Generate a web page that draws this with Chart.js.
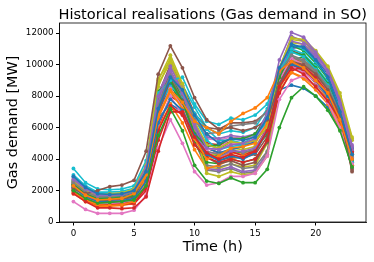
<!DOCTYPE html>
<html>
<head>
<meta charset="utf-8">
<script src="https://cdn.jsdelivr.net/npm/chart.js@4.4.1/dist/chart.umd.min.js"></script>
<style>
  html, body { margin: 0; padding: 0; background: #fff; }
  #wrap { width: 374px; height: 262px; }
</style>
</head>
<body>
<div id="wrap"><canvas id="gas-chart" width="374" height="262"></canvas></div>
<script>
const hours = [0, 1, 2, 3, 4, 5, 6, 7, 8, 9, 10, 11, 12, 13, 14, 15, 16, 17, 18, 19, 20, 21, 22, 23];
const xTicks = [0, 5, 10, 15, 20];
const yTicks = [0, 2000, 4000, 6000, 8000, 10000, 12000];
const chartTitle = 'Historical realisations (Gas demand in SO)';
const xLabel = 'Time (h)';
const yLabel = 'Gas demand [MW]';

// matplotlib tab10 cycle
const palette = ['#1f77b4', '#ff7f0e', '#2ca02c', '#d62728', '#9467bd', '#8c564b', '#e377c2', '#7f7f7f', '#bcbd22', '#17becf'];

const day01 = [2900, 2200, 1800, 1750, 1800, 2000, 3200, 7200, 9200, 8400, 6800, 5600, 5000, 5300, 5200, 5400, 6600, 9800, 11300, 11100, 10300, 9200, 7000, 4300];
const day02 = [2300, 1700, 1400, 1450, 1500, 1800, 3000, 6800, 8400, 7600, 6400, 6000, 5600, 6400, 6900, 7250, 7900, 9600, 10200, 9800, 9000, 8200, 6500, 4000];
const day03 = [2000, 1500, 1200, 1250, 1300, 1400, 2300, 5500, 7200, 5800, 3600, 2600, 2450, 2800, 2500, 2500, 3350, 6000, 7900, 8600, 8000, 7100, 5800, 3500];
const day04 = [1800, 1300, 900, 900, 850, 900, 1600, 4500, 7000, 7000, 5400, 4400, 4000, 4300, 4100, 4500, 5800, 8600, 9800, 9400, 8600, 7700, 6500, 4400];
const day05 = [2700, 2100, 1700, 1700, 1750, 2000, 3500, 8000, 9600, 8200, 6200, 4700, 4600, 4900, 5000, 5300, 6900, 10300, 12050, 11750, 10800, 9600, 7500, 4600];
const day06 = [2100, 1800, 2000, 2250, 2350, 2650, 4500, 9400, 11200, 9800, 7900, 6500, 5900, 6000, 5800, 6000, 6500, 8800, 10200, 10000, 9400, 8400, 6800, 3200];
const day07 = [1300, 800, 550, 550, 550, 750, 1700, 4700, 6500, 5000, 3200, 2350, 2500, 2900, 2900, 3100, 4200, 7800, 9000, 9300, 8600, 7600, 6000, 3700];
const day08 = [2500, 1900, 1600, 1650, 1700, 1900, 3100, 7400, 9400, 8100, 6500, 5600, 5700, 6100, 6200, 6300, 7000, 9500, 10600, 10300, 9600, 8600, 6900, 4200];
const day09 = [2600, 2000, 1700, 1800, 1850, 2100, 3600, 9000, 10600, 8800, 6400, 4900, 4700, 5100, 5000, 5200, 6000, 9800, 11700, 11600, 10900, 9900, 8200, 5400];
const day10 = [3400, 2500, 2100, 2050, 2100, 2300, 3900, 8200, 9000, 9200, 7500, 6400, 6200, 6600, 6500, 6800, 7500, 9600, 10800, 10500, 9700, 8700, 6900, 3800];
const day11 = [2200, 1600, 1300, 1300, 1350, 1500, 2600, 6300, 7800, 7100, 5500, 4300, 3900, 4200, 4000, 4400, 5800, 8800, 10000, 9800, 9000, 8000, 6600, 4000];
const day12 = [1900, 1400, 1100, 1050, 1100, 1300, 2900, 6600, 8300, 7200, 5300, 4000, 4200, 4700, 4800, 5000, 6300, 8700, 9500, 9200, 8600, 7800, 6100, 3600];
const day13 = [2400, 1800, 1500, 1500, 1550, 1700, 3300, 8300, 9000, 7600, 5600, 4800, 4900, 5300, 5300, 5600, 6700, 9200, 10800, 10600, 9800, 8800, 7100, 4300];
const day14 = [2000, 1400, 1100, 1100, 1100, 1200, 2200, 5800, 7400, 6800, 4900, 4100, 3800, 4000, 3800, 4000, 5200, 8200, 9600, 9900, 9200, 8200, 6700, 4500];
const day15 = [2500, 1900, 1500, 1500, 1550, 1750, 3000, 7600, 9900, 8300, 6000, 4300, 4100, 4500, 4500, 4700, 5900, 9300, 11500, 11300, 10500, 9500, 7600, 4800];
const day16 = [2300, 1700, 1400, 1400, 1450, 1600, 2800, 7000, 9100, 7700, 5500, 4100, 3700, 3900, 3600, 3800, 5100, 8600, 10200, 9900, 9100, 8100, 6400, 3300];
const day17 = [2100, 1600, 1300, 1300, 1350, 1500, 2700, 6700, 8500, 7300, 5400, 4600, 4700, 5300, 5200, 5400, 6200, 9000, 10400, 10000, 9200, 8300, 6700, 4100];
const day18 = [2400, 1800, 1500, 1500, 1550, 1750, 3000, 7300, 9300, 7600, 5600, 4500, 4300, 4600, 4400, 4600, 5800, 9100, 10500, 10200, 9400, 8400, 6800, 4000];
const day19 = [2700, 2000, 1600, 1650, 1700, 1950, 3300, 8800, 10100, 8400, 5900, 3100, 2900, 3200, 3000, 3100, 4200, 8400, 10300, 10100, 9300, 8400, 6700, 4200];
const day20 = [2900, 2200, 1800, 1800, 1850, 2050, 3500, 7400, 8600, 8000, 6600, 5200, 4600, 4800, 4900, 5300, 6400, 9300, 11000, 10700, 9900, 8900, 7200, 4500];
const day21 = [2600, 2000, 1600, 1600, 1650, 1850, 3200, 7000, 8700, 7800, 6100, 4700, 4400, 4600, 4800, 5100, 6700, 9500, 11100, 11200, 10400, 9400, 7400, 4700];
const day22 = [1800, 1300, 1000, 1000, 1050, 1200, 2400, 5900, 7500, 6300, 4600, 3400, 3600, 4000, 4200, 4400, 5800, 8300, 9500, 9100, 8400, 7500, 5900, 3600];
const day23 = [2300, 1700, 1400, 1450, 1500, 1650, 3000, 7800, 8800, 7300, 5000, 3800, 3700, 4000, 3800, 4000, 5100, 9000, 10300, 10500, 9600, 8600, 6800, 3900];
const day24 = [1900, 1400, 1050, 1050, 1100, 1150, 2000, 5200, 7200, 6900, 5700, 4700, 4400, 4500, 4200, 4600, 6000, 8900, 10000, 9700, 9000, 8100, 6500, 4600];
const day25 = [2800, 2100, 1700, 1750, 1800, 2000, 3400, 8200, 9800, 8600, 6500, 5400, 5300, 5500, 5400, 5600, 6800, 9700, 11800, 11500, 10700, 9700, 7800, 4900];
const day26 = [2200, 1700, 1400, 1400, 1450, 1650, 3000, 7700, 9600, 8200, 6300, 4400, 3900, 4100, 4100, 4300, 5400, 9200, 10900, 10600, 9700, 8700, 6900, 3500];
const day27 = [2000, 1500, 1200, 1200, 1250, 1400, 2500, 6200, 8000, 6800, 5100, 4300, 4500, 5000, 5000, 5100, 6000, 8500, 9800, 9500, 8900, 8000, 6400, 3800];
const day28 = [2200, 1700, 1400, 1450, 1450, 1650, 2900, 7100, 8900, 7300, 5100, 3600, 3500, 3700, 3400, 3500, 4500, 8600, 10100, 9800, 9100, 8200, 6600, 3900];
const day29 = [2400, 1900, 1600, 1650, 1700, 1900, 3400, 8600, 10400, 8600, 6100, 4300, 4300, 4700, 4600, 4800, 5900, 9400, 11600, 11500, 10800, 9800, 8000, 5200];
const day30 = [2600, 1900, 1500, 1500, 1550, 1750, 3100, 7700, 8000, 8200, 6900, 5900, 5200, 5200, 5000, 5500, 6900, 9800, 11300, 11000, 10200, 9200, 7300, 4400];
const day31 = [2400, 1800, 1400, 1400, 1450, 1600, 2900, 6600, 7500, 7000, 5800, 4900, 4700, 5000, 4900, 5200, 6400, 8400, 8700, 8500, 8000, 7300, 5900, 3800];
const day32 = [2100, 1600, 1200, 1250, 1300, 1450, 2700, 6900, 8800, 7800, 5900, 4200, 4000, 4400, 4300, 4500, 5900, 9200, 10500, 10200, 9400, 8400, 6600, 4100];
const day33 = [2600, 1900, 1600, 1650, 1700, 1850, 3100, 8000, 9400, 7900, 5400, 4400, 4200, 4500, 4400, 4600, 5600, 9500, 11200, 10900, 10100, 9100, 7300, 4300];
const day34 = [2100, 1500, 1200, 1200, 1200, 1300, 2300, 6000, 8000, 7500, 5900, 5000, 4900, 5100, 4900, 5200, 6300, 9100, 10400, 10100, 9300, 8300, 6700, 4400];
const day35 = [2300, 1800, 1500, 1500, 1550, 1750, 3000, 7500, 9100, 7600, 5300, 3400, 3300, 3500, 3200, 3300, 4300, 8800, 11000, 11200, 10600, 9700, 7700, 4700];
const day36 = [2500, 1900, 1600, 1600, 1650, 1850, 3200, 8100, 10000, 8700, 6900, 6000, 5900, 6300, 6300, 6400, 7000, 9300, 10100, 9600, 8900, 8000, 6500, 3600];
const day37 = [2200, 1700, 1400, 1400, 1450, 1600, 2800, 6900, 8900, 7400, 5600, 5300, 5200, 5400, 5300, 5500, 6400, 8900, 9900, 9700, 9000, 8100, 6500, 4000];
const day38 = [2300, 1800, 1500, 1500, 1500, 1700, 3000, 7600, 9300, 7700, 5200, 3300, 3200, 3400, 3100, 3200, 4400, 8600, 9900, 9600, 8800, 7900, 6300, 3400];
const day39 = [2500, 1900, 1600, 1650, 1700, 1950, 3400, 9100, 10300, 8500, 5600, 3500, 3400, 3700, 3500, 3600, 5000, 9700, 11400, 11300, 10700, 9700, 8000, 5300];
const day40 = [3000, 2300, 1900, 1900, 1950, 2150, 3600, 7600, 8300, 8700, 7300, 6000, 5600, 5800, 5700, 6000, 7200, 9400, 10400, 10200, 9500, 8500, 6800, 4100];

const realisations = [day01, day02, day03, day04, day05, day06, day07, day08, day09, day10,
    day11, day12, day13, day14, day15, day16, day17, day18, day19, day20,
    day21, day22, day23, day24, day25, day26, day27, day28, day29, day30,
    day31, day32, day33, day34, day35, day36, day37, day38, day39, day40];

// spines on all four sides plus title / axis labels placed like matplotlib
const framePlugin = {
    id: 'frame',
    afterDraw(chart) {
        const {ctx, chartArea: a} = chart;
        ctx.save();
        ctx.strokeStyle = '#000';
        ctx.lineWidth = 0.8;
        ctx.strokeRect(a.left, a.top, a.right - a.left, a.bottom - a.top);

        ctx.fillStyle = '#000';
        ctx.textAlign = 'center';
        ctx.textBaseline = 'alphabetic';
        const cx = (a.left + a.right) / 2;
        ctx.font = '14.6px "DejaVu Sans"';
        ctx.fillText(chartTitle, cx, 18.5);

        ctx.font = '14.4px "DejaVu Sans"';
        ctx.textBaseline = 'middle';
        ctx.fillText(xLabel, cx, 247.5);

        ctx.translate(13, (a.top + a.bottom) / 2);
        ctx.rotate(-Math.PI / 2);
        ctx.fillText(yLabel, 0, 0);
        ctx.restore();
    }
};

const datasets = realisations.map((vals, i) => ({
    label: 'day ' + (i + 1),
    data: vals.map((v, j) => ({x: hours[j], y: v})),
    borderColor: palette[i % 10],
    backgroundColor: palette[i % 10],
    borderWidth: 1.6,
    pointRadius: 1.9,
    pointBorderWidth: 0,
    tension: 0
}));

const tickFont = {family: 'DejaVu Sans', size: 8.7};

new Chart(document.getElementById('gas-chart').getContext('2d'), {
    type: 'line',
    data: {datasets},
    plugins: [framePlugin],
    options: {
        responsive: false,
        animation: false,
        layout: {padding: {top: 23, right: 8, left: 0, bottom: 0}},
        scales: {
            x: {
                type: 'linear',
                min: -1.15,
                max: 24.15,
                afterBuildTicks: s => { s.ticks = xTicks.map(v => ({value: v})); },
                afterFit: s => { s.height = 40; },
                ticks: {color: '#000', font: tickFont, padding: 3, maxRotation: 0},
                grid: {display: true, drawOnChartArea: false, drawTicks: true, tickLength: 3.5, color: '#000'},
                border: {display: true, color: '#000', width: 0.8}
            },
            y: {
                min: 0,
                max: 12650,
                afterBuildTicks: s => { s.ticks = yTicks.map(v => ({value: v})); },
                afterFit: s => { s.width = 59.5; },
                ticks: {color: '#000', font: tickFont, padding: 2.5, callback: v => String(v)},
                grid: {display: true, drawOnChartArea: false, drawTicks: true, tickLength: 3.5, color: '#000'},
                border: {display: true, color: '#000', width: 0.8}
            }
        },
        plugins: {
            legend: {display: false},
            tooltip: {enabled: false},
            title: {display: false}
        }
    }
});
</script>
</body>
</html>
